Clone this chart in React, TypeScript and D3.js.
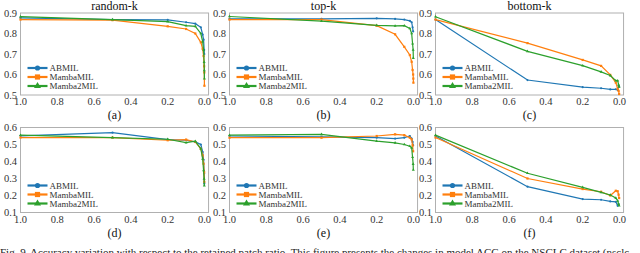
import React from "react";
import * as d3 from "d3";

const xRatios = [1.0, 0.5, 0.2, 0.1, 0.05, 0.02, 0.01, 0.005, 0.002, 0.001, 0.0005];
const xTicks = [1.0, 0.8, 0.6, 0.4, 0.2, 0.0];
const yTicksTop = [0.5, 0.6, 0.7, 0.8, 0.9];
const yTicksBottom = [0.1, 0.2, 0.3, 0.4, 0.5, 0.6];
const seriesNames = ["ABMIL", "MambaMIL", "Mamba2MIL"];
const titles = ["random-k", "top-k", "bottom-k"];
const subLabels = ["(a)", "(b)", "(c)", "(d)", "(e)", "(f)"];

const aABMIL = [0.876, 0.868, 0.866, 0.855, 0.848, 0.83, 0.795, 0.77, 0.72, 0.70];
const aMamba = [0.868, 0.865, 0.835, 0.822, 0.80, 0.757, 0.725, 0.69, 0.64, 0.61, 0.545];
const aMamba2 = [0.882, 0.868, 0.858, 0.838, 0.835, 0.80, 0.76, 0.72, 0.66, 0.62, 0.58];

const bABMIL = [0.871, 0.871, 0.874, 0.871, 0.868, 0.862, 0.855, 0.83, 0.81];
const bMamba = [0.868, 0.868, 0.838, 0.796, 0.735, 0.695, 0.662, 0.622, 0.60, 0.58, 0.56];
const bMamba2 = [0.883, 0.86, 0.84, 0.837, 0.838, 0.825, 0.80, 0.75, 0.72, 0.68];

const cABMIL = [0.868, 0.573, 0.538, 0.533, 0.527, 0.528, 0.525, 0.545, 0.54];
const cMamba = [0.868, 0.753, 0.671, 0.642, 0.598, 0.56, 0.53, 0.52, 0.505];
const cMamba2 = [0.882, 0.713, 0.643, 0.613, 0.595, 0.57, 0.57, 0.55, 0.54];

const dABMIL = [0.551, 0.570, 0.529, 0.525, 0.515, 0.50, 0.456, 0.41, 0.33, 0.27];
const dMamba = [0.541, 0.541, 0.525, 0.529, 0.515, 0.475, 0.436, 0.387, 0.337, 0.28];
const dMamba2 = [0.555, 0.541, 0.531, 0.511, 0.519, 0.475, 0.416, 0.347, 0.298, 0.258];

const eABMIL = [0.55, 0.545, 0.54, 0.535, 0.54, 0.55, 0.535, 0.515, 0.495];
const eMamba = [0.54, 0.54, 0.55, 0.56, 0.555, 0.54, 0.53, 0.495, 0.46];
const eMamba2 = [0.555, 0.56, 0.52, 0.51, 0.50, 0.49, 0.48, 0.425, 0.385, 0.35];

const fABMIL = [0.55, 0.252, 0.179, 0.175, 0.165, 0.163, 0.14, 0.15];
const fMamba = [0.541, 0.30, 0.238, 0.222, 0.20, 0.228, 0.225, 0.205, 0.185];
const fMamba2 = [0.555, 0.331, 0.248, 0.218, 0.203, 0.185, 0.169, 0.15, 0.14];

const captionLead = "Fig. 9.";
const captionBody =
  "Accuracy variation with respect to the retained patch ratio. This figure presents the changes in model ACC on the NSCLC dataset (nsclc";

const panelData = [
  [aABMIL, aMamba, aMamba2],
  [bABMIL, bMamba, bMamba2],
  [cABMIL, cMamba, cMamba2],
  [dABMIL, dMamba, dMamba2],
  [eABMIL, eMamba, eMamba2],
  [fABMIL, fMamba, fMamba2],
];

const COLORS = ["#1f77b4", "#ff7f0e", "#2ca02c"];
const FONT = "'Liberation Serif', 'Times New Roman', serif";
const LEFTS = [20.5, 229.5, 435.5];
const UNIT = 184;
const ROWS = [
  { top: 13, bottom: 95, domain: [0.5, 0.9], ticks: yTicksTop },
  { top: 127.5, bottom: 212.5, domain: [0.1, 0.6], ticks: yTicksBottom },
];

function Marker({ kind, x, y, size, color }: any) {
  if (kind === 0) return <circle cx={x} cy={y} r={size} fill={color} />;
  if (kind === 1)
    return <rect x={x - size} y={y - size} width={size * 2} height={size * 2} fill={color} />;
  const sym = d3.symbol().type(d3.symbolTriangle).size(size * size * 3.2)();
  return <path d={sym as string} transform={`translate(${x},${y})`} fill={color} />;
}

function Panel({ idx }: { idx: number }) {
  const col = idx % 3;
  const row = Math.floor(idx / 3);
  const R = ROWS[row];
  const left = LEFTS[col];
  const right = left + UNIT * 1.022;
  const x = d3.scaleLinear().domain([1.0, -0.022]).range([left, right]);
  const y = d3.scaleLinear().domain(R.domain).range([R.bottom, R.top]);
  const line = d3
    .line<number>()
    .x((_, i) => x(xRatios[i]))
    .y((d) => y(d));
  const series = panelData[idx];
  const cx = (left + right) / 2;
  return (
    <g>
      <rect x={left} y={R.top} width={right - left} height={R.bottom - R.top} fill="white" stroke="#b0b0b0" strokeWidth={1} />
      {series.map((vals, s) => (
        <g key={s}>
          <path d={line(vals) as string} fill="none" stroke={COLORS[s]} strokeWidth={1.2} />
          {vals.map((v, i) => (
            <Marker key={i} kind={s} x={x(xRatios[i])} y={y(v)} size={1.1} color={COLORS[s]} />
          ))}
        </g>
      ))}
      {xTicks.map((t) => (
        <text key={t} x={x(t)} y={R.bottom + 10} fontSize={10.5} textAnchor="middle" fill="#333" fontFamily={FONT}>
          {d3.format(".1f")(t)}
        </text>
      ))}
      {R.ticks.map((t) => (
        <text key={t} x={left - 3.5} y={y(t) + 3.6} fontSize={10.5} textAnchor="end" fill="#333" fontFamily={FONT}>
          {d3.format(".1f")(t)}
        </text>
      ))}
      {seriesNames.map((n, s) => {
        const ly = R.bottom - 27 + s * 9;
        return (
          <g key={n}>
            <line x1={left + 7} x2={left + 27} y1={ly} y2={ly} stroke={COLORS[s]} strokeWidth={2.2} />
            <Marker kind={s} x={left + 17} y={ly} size={2.6} color={COLORS[s]} />
            <text x={left + 29} y={ly + 3} fontSize={9} fill="#333" fontFamily={FONT}>
              {n}
            </text>
          </g>
        );
      })}
      {row === 0 && (
        <text x={cx} y={9.5} fontSize={12} textAnchor="middle" fill="#111" fontFamily={FONT}>
          {titles[col]}
        </text>
      )}
      <text x={cx} y={R.bottom + 24} fontSize={12} textAnchor="middle" fill="#111" fontFamily={FONT}>
        {subLabels[idx]}
      </text>
    </g>
  );
}

export default function App() {
  return (
    <svg width={640} height={253} style={{ position: "absolute", left: 0, top: 0, background: "white" }}>
      <rect width={640} height={253} fill="white" />
      {[0, 1, 2, 3, 4, 5].map((i) => (
        <Panel key={i} idx={i} />
      ))}
      <text x={0} y={255.5} fontSize={11} fill="#222" fontFamily={FONT}>
        {captionLead}
      </text>
      <text x={30} y={255.5} fontSize={11} fill="#222" fontFamily={FONT}>
        {captionBody}
      </text>
    </svg>
  );
}
